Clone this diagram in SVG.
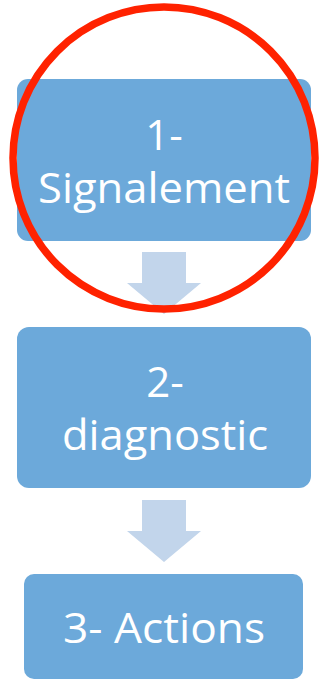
<svg xmlns="http://www.w3.org/2000/svg" width="321" height="686" viewBox="0 0 321 686">
<style>
.box{fill:#6ca9da}
.arr{fill:#c2d5eb}
.lbl{fill:#ffffff;font-family:"Open Sans","Noto Sans",sans-serif;font-size:42px;text-anchor:middle}
</style>
<rect width="321" height="686" fill="#ffffff"/>
<g id="connectors">
<path class="arr" d="M142,252 H186 V283 H201 L164,314 L127,283 H142 Z"/>
<path class="arr" d="M142,500 H186 V531 H201 L164,562 L127,531 H142 Z"/>
</g>
<g id="node1">
<rect class="box" x="17" y="79" width="294" height="162" rx="11"/>
<text class="lbl" x="164" y="150">1-</text>
<text class="lbl" x="164" y="203" textLength="252" lengthAdjust="spacingAndGlyphs">Signalement</text>
</g>
<g id="node2">
<rect class="box" x="17" y="327" width="294" height="161" rx="12"/>
<text class="lbl" x="165" y="397">2-</text>
<text class="lbl" x="165" y="450" textLength="206" lengthAdjust="spacingAndGlyphs">diagnostic</text>
</g>
<g id="node3">
<rect class="box" x="24" y="574" width="279" height="105" rx="10"/>
<text class="lbl" x="164" y="643" textLength="202" lengthAdjust="spacingAndGlyphs">3- Actions</text>
</g>
<g id="highlight">
<ellipse cx="164" cy="158" rx="151" ry="151" fill="none" stroke="#ff2200" stroke-width="7.5"/>
</g>
</svg>
